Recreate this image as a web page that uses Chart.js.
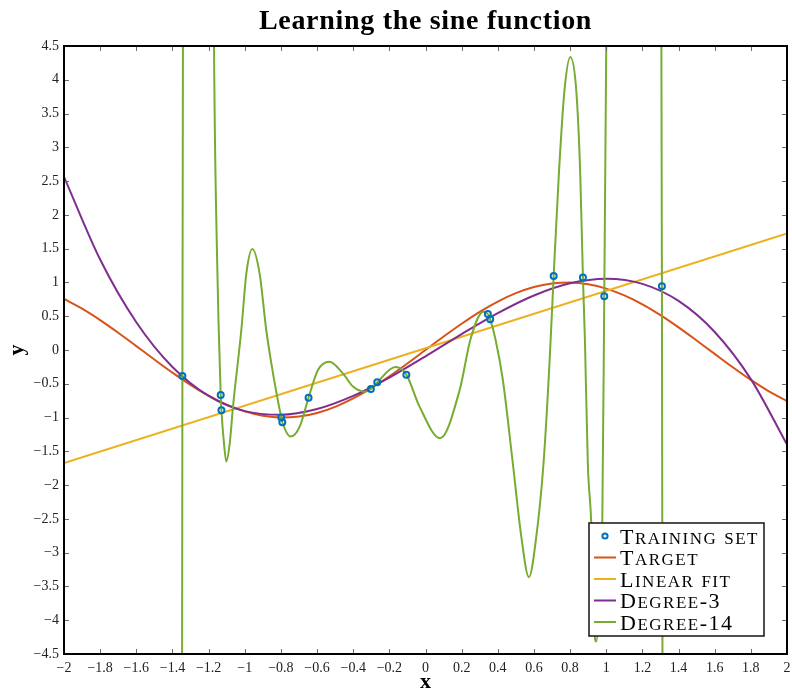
<!DOCTYPE html>
<html>
<head>
<meta charset="utf-8">
<script src="https://cdn.jsdelivr.net/npm/chart.js@4.4.1/dist/chart.umd.min.js"></script>
<style>
  html, body { margin: 0; padding: 0; background: #fff; }
  canvas { display: block; }
</style>
</head>
<body>
<canvas id="chart" width="792" height="691"></canvas>
<script>
// ---- data ----
const chartTitle = 'Learning the sine function';
const seriesNames = ['Training set', 'Target', 'Linear fit', 'Degree-3', 'Degree-14'];

const xTickValues = [-2, -1.8, -1.6, -1.4, -1.2, -1, -0.8, -0.6, -0.4, -0.2, 0, 0.2, 0.4, 0.6, 0.8, 1, 1.2, 1.4, 1.6, 1.8, 2];
const yTickValues = [-4.5, -4, -3.5, -3, -2.5, -2, -1.5, -1, -0.5, 0, 0.5, 1, 1.5, 2, 2.5, 3, 3.5, 4, 4.5];

// noisy samples
const trainX = [-1.345, -1.133, -1.129, -0.798, -0.792, -0.647, -0.302, -0.267, -0.106, 0.345, 0.358, 0.709, 0.871, 0.989, 1.308];
const trainY = [-0.385, -0.666, -0.892, -1.001, -1.070, -0.705, -0.577, -0.478, -0.365, 0.533, 0.454, 1.095, 1.075, 0.794, 0.942];

// target curve
const targetX = [-2.0, -1.9, -1.8, -1.7, -1.6, -1.5, -1.4, -1.3, -1.2, -1.1, -1.0, -0.9, -0.8, -0.7, -0.6, -0.5, -0.4, -0.3, -0.2, -0.1,
                 0.0, 0.1, 0.2, 0.3, 0.4, 0.5, 0.6, 0.7, 0.8, 0.9, 1.0, 1.1, 1.2, 1.3, 1.4, 1.5, 1.6, 1.7, 1.8, 1.9, 2.0];
const targetY = [0.757, 0.612, 0.443, 0.256, 0.058, -0.141, -0.335, -0.516, -0.676, -0.808, -0.909, -0.974, -1.000, -0.985, -0.932, -0.841, -0.717, -0.565, -0.389, -0.199,
                 0.000, 0.199, 0.389, 0.565, 0.717, 0.841, 0.932, 0.985, 1.000, 0.974, 0.909, 0.808, 0.676, 0.516, 0.335, 0.141, -0.058, -0.256, -0.443, -0.612, -0.757];

// straight-line fit
const linearX = [-2, 2];
const linearY = [-1.672, 1.726];

// cubic fit
const cubicX = [-2.0, -1.8, -1.6, -1.4, -1.2, -1.0, -0.8, -0.6, -0.4, -0.2, 0.0, 0.2, 0.4, 0.6, 0.8, 1.0, 1.2, 1.4, 1.6, 1.8, 2.0];
const cubicY = [2.564, 1.339, 0.411, -0.252, -0.680, -0.905, -0.959, -0.874, -0.680, -0.409, -0.094, 0.235, 0.546, 0.807, 0.987, 1.055, 0.979, 0.726, 0.267, -0.431, -1.400];

// degree-14 fit (runs far off the plot near the ends of the sample range)
const deg14X = [-1.36, -1.3465, -1.345, -1.342, -1.32, -1.26, -1.2, -1.17, -1.154, -1.133, -1.129, -1.115, -1.102, -1.083, -1.065,
                -1.019, -0.991, -0.958, -0.918, -0.881, -0.853, -0.798, -0.792, -0.746, -0.696, -0.647, -0.595, -0.532, -0.457,
                -0.401, -0.337, -0.302, -0.267, -0.166, -0.106, -0.033, 0.081, 0.189, 0.25, 0.32, 0.345, 0.358, 0.388, 0.428,
                0.483, 0.53, 0.572, 0.613, 0.653, 0.686, 0.709, 0.738, 0.769, 0.801, 0.834, 0.856, 0.871, 0.882, 0.898, 0.917,
                0.932, 0.945, 0.958, 0.978, 0.989, 1.0, 1.03, 1.1, 1.18, 1.25, 1.29, 1.305, 1.308, 1.311, 1.33];
const deg14Y = [-40, -4.5, -0.385, 4.5, 25, 45, 20, 4.5, 1.48, -0.666, -0.892, -1.38, -1.652, -1.38, -0.838,
                0.296, 1.134, 1.494, 1.134, 0.296, -0.197, -1.001, -1.07, -1.282, -1.134, -0.705, -0.296, -0.173, -0.345,
                -0.542, -0.617, -0.577, -0.478, -0.253, -0.365, -0.838, -1.306, -0.592, 0.17, 0.567, 0.533, 0.454, 0.148, -0.444,
                -1.676, -2.762, -3.363, -2.762, -1.676, -0.197, 1.095, 2.614, 3.846, 4.339, 3.846, 2.614, 1.075, 0.148, -1.676, -2.564,
                -4.05, -4.315, -3.95, -2.564, 0.794, 4.5, 15, 40, 50, 35, 12, 4.5, 0.942, -4.5, -30];

const colors = {
  train: '#0072BD',
  target: '#D95319',
  linear: '#EDB120',
  cubic: '#7E2F8E',
  deg14: '#77AC30'
};

const SERIF = '"Liberation Serif", "Times New Roman", serif';

const pts = (xs, ys) => xs.map((x, i) => ({ x: x, y: ys[i] }));
const fmt = v => {
  const r = Math.round(v * 10) / 10;
  return (r < 0 ? '\u2212' : '') + String(Math.abs(r));
};

const curve = (label, xs, ys, color, order) => ({
  label: label,
  data: pts(xs, ys),
  showLine: true,
  borderColor: color,
  backgroundColor: color,
  borderWidth: 2,
  pointRadius: 0,
  pointHoverRadius: 0,
  cubicInterpolationMode: 'monotone',
  order: order
});

// inward tick marks and the black frame round the plot
const frameTicks = {
  id: 'frameTicks',
  afterDatasetsDraw(chart) {
    const { ctx, chartArea: a, scales: { x, y } } = chart;
    ctx.save();
    ctx.strokeStyle = '#6a6a6a';
    ctx.lineWidth = 1;
    ctx.beginPath();
    for (const v of xTickValues) {
      const px = Math.round(x.getPixelForValue(v)) + 0.5;
      ctx.moveTo(px, a.bottom); ctx.lineTo(px, a.bottom - 5);
      ctx.moveTo(px, a.top); ctx.lineTo(px, a.top + 5);
    }
    for (const v of yTickValues) {
      const py = Math.round(y.getPixelForValue(v)) + 0.5;
      ctx.moveTo(a.left, py); ctx.lineTo(a.left + 5, py);
      ctx.moveTo(a.right, py); ctx.lineTo(a.right - 5, py);
    }
    ctx.stroke();
    ctx.strokeStyle = '#000';
    ctx.lineWidth = 2;
    ctx.strokeRect(a.left, a.top, a.right - a.left, a.bottom - a.top);
    ctx.restore();
  }
};

// small-caps text: lowercase letters become smaller capitals
function drawSmallCaps(ctx, text, x, y, big, small, spacing) {
  let cx = x;
  for (const ch of text) {
    const lower = ch !== ch.toUpperCase();
    const g = lower ? ch.toUpperCase() : ch;
    ctx.font = (lower ? small : big) + 'px ' + SERIF;
    ctx.fillText(g, cx, y);
    cx += ctx.measureText(g).width + spacing;
  }
}

// title and boxed legend
const titleAndLegend = {
  id: 'titleAndLegend',
  afterDraw(chart) {
    const { ctx, chartArea: a } = chart;
    ctx.save();
    // title
    ctx.fillStyle = '#000';
    ctx.font = 'bold 28px ' + SERIF;
    if ('letterSpacing' in ctx) ctx.letterSpacing = '0.7px';
    ctx.textAlign = 'center';
    ctx.textBaseline = 'alphabetic';
    ctx.fillText(chartTitle, (a.left + a.right) / 2, 29);
    if ('letterSpacing' in ctx) ctx.letterSpacing = '0px';

    // legend
    const w = 175, h = 113;
    const x0 = a.right - 23 - w, y0 = a.bottom - 18 - h;
    ctx.fillStyle = '#fff';
    ctx.fillRect(x0, y0, w, h);
    ctx.strokeStyle = '#222';
    ctx.lineWidth = 1.6;
    ctx.strokeRect(x0, y0, w, h);

    ctx.textAlign = 'left';
    chart.data.datasets.forEach((ds, i) => {
      const base = y0 + 20.5 + i * 21.5;
      const cy = base - 7.5;
      if (ds.showLine) {
        ctx.strokeStyle = ds.borderColor;
        ctx.lineWidth = 2;
        ctx.beginPath();
        ctx.moveTo(x0 + 5, cy);
        ctx.lineTo(x0 + 27, cy);
        ctx.stroke();
      } else {
        ctx.strokeStyle = ds.borderColor;
        ctx.lineWidth = 2;
        ctx.beginPath();
        ctx.arc(x0 + 16, cy, 2.6, 0, Math.PI * 2);
        ctx.stroke();
      }
      ctx.fillStyle = '#000';
      drawSmallCaps(ctx, ds.label, x0 + 31, base, 22, 17, 1.5);
    });
    ctx.restore();
  }
};

Chart.defaults.font.family = SERIF;
Chart.defaults.color = '#222';

new Chart(document.getElementById('chart'), {
  type: 'scatter',
  data: {
    datasets: [
      {
        label: seriesNames[0],
        data: pts(trainX, trainY),
        showLine: false,
        pointStyle: 'circle',
        pointRadius: 3,
        pointHoverRadius: 3,
        borderWidth: 2,
        borderColor: colors.train,
        backgroundColor: 'rgba(0,0,0,0)',
        order: 0
      },
      curve(seriesNames[1], targetX, targetY, colors.target, 4),
      curve(seriesNames[2], linearX, linearY, colors.linear, 3),
      curve(seriesNames[3], cubicX, cubicY, colors.cubic, 2),
      curve(seriesNames[4], deg14X, deg14Y, colors.deg14, 1)
    ]
  },
  options: {
    responsive: false,
    animation: false,
    devicePixelRatio: 1,
    layout: { padding: { top: 46, right: 4, bottom: 0, left: 0 } },
    elements: { line: { capBezierPoints: false } },
    plugins: {
      legend: { display: false },
      title: { display: false },
      tooltip: { enabled: false }
    },
    scales: {
      x: {
        type: 'linear',
        min: -2,
        max: 2,
        afterBuildTicks: s => { s.ticks = xTickValues.map(v => ({ value: v })); },
        afterFit: s => { s.height = 37; s.paddingLeft = 0; s.paddingRight = 0; },
        grid: { display: false, drawTicks: false },
        border: { display: false },
        ticks: { callback: fmt, font: { size: 14 }, color: '#222', padding: 6, maxRotation: 0, autoSkip: false },
        title: { display: true, text: 'x', font: { size: 22, weight: 'bold', lineHeight: 0.8 }, color: '#000', padding: { top: 0, bottom: 0 } }
      },
      y: {
        type: 'linear',
        min: -4.5,
        max: 4.5,
        afterBuildTicks: s => { s.ticks = yTickValues.map(v => ({ value: v })); },
        afterFit: s => { s.width = 64; s.paddingTop = 0; s.paddingBottom = 0; },
        grid: { display: false, drawTicks: false },
        border: { display: false },
        ticks: { callback: fmt, font: { size: 14 }, color: '#222', padding: 5, autoSkip: false },
        title: { display: true, text: 'y', font: { size: 22, weight: 'bold', lineHeight: 0.8 }, color: '#000', padding: { top: 9, bottom: 0 } }
      }
    }
  },
  plugins: [frameTicks, titleAndLegend]
});
</script>
</body>
</html>
